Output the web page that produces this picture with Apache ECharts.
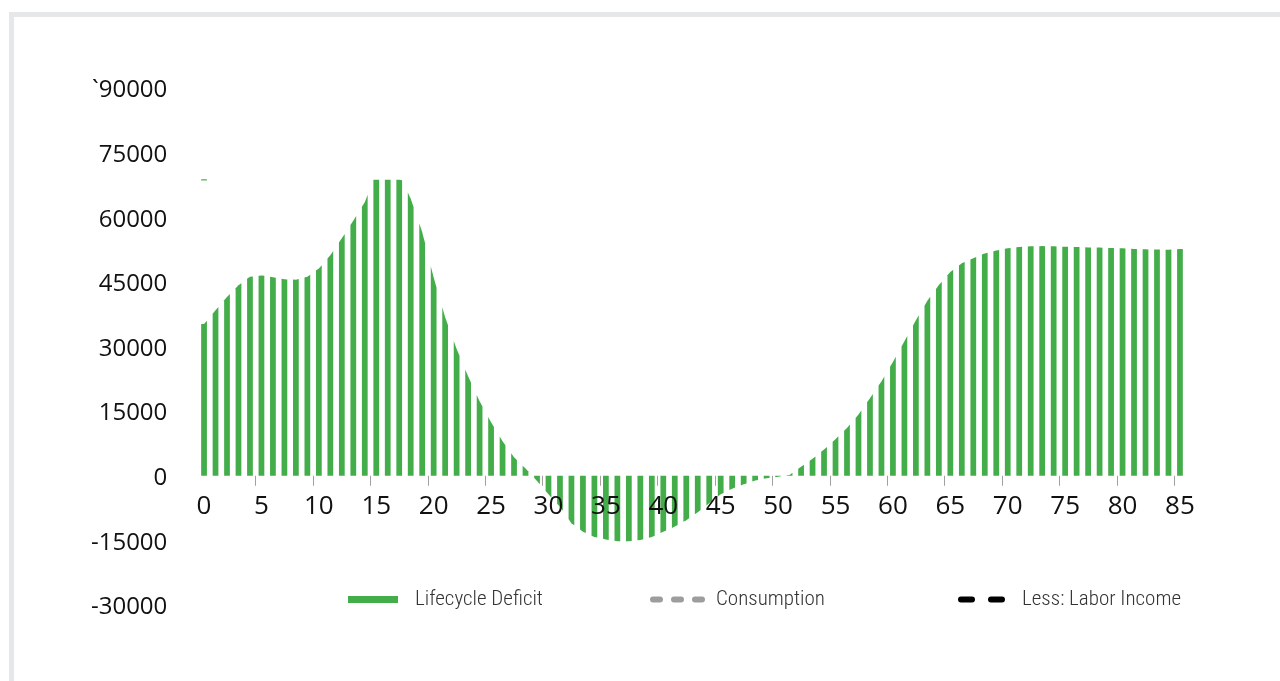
<!DOCTYPE html>
<html>
<head>
<meta charset="utf-8">
<script src="https://cdn.jsdelivr.net/npm/echarts@6/dist/echarts.min.js"></script>
<style>
  html, body { margin: 0; padding: 0; background: #ffffff; }
  #frame { position: absolute; left: 9px; top: 12px; right: 0; bottom: 0;
           border-left: 5px solid #e6e7e9; border-top: 5px solid #e6e7e9; background: #fff; }
  #chart { position: absolute; left: 0; top: 0; width: 1280px; height: 681px; }
</style>
</head>
<body>
<div id="frame"></div>
<div id="chart"></div>
<script>
// ---- data ----
const ages = [0,1,2,3,4,5,6,7,8,9,10,11,12,13,14,15,16,17,18,19,
  20,21,22,23,24,25,26,27,28,29,30,31,32,33,34,35,36,37,38,39,
  40,41,42,43,44,45,46,47,48,49,50,51,52,53,54,55,56,57,58,59,
  60,61,62,63,64,65,66,67,68,69,70,71,72,73,74,75,76,77,78,79,
  80,81,82,83,84,85];

const lifecycleDeficit = [
  35200, 38400, 41500, 44200, 46200, 46500, 46100, 45600, 45500, 46200,
  48100, 51200, 55100, 59200, 63500, 70500, 72000, 70000, 64300, 56600,
  46000, 36800, 29400, 23100, 17300, 12400, 8000, 4300, 1700, -1200,
  -4300, -7200, -11000, -13000, -14200, -14800, -15200, -15200, -14900, -14200,
  -13000, -11800, -10300, -8500, -6400, -4300, -3000, -2000, -1100, -600,
  -250, 200, 2100, 3950, 6100, 8500, 11100, 14200, 18000, 21900,
  26400, 31200, 36100, 40600, 44300, 47300, 49300, 50500, 51600, 52300,
  52800, 53100, 53250, 53300, 53250, 53150, 53100, 53000, 52950, 52850,
  52800, 52650, 52550, 52500, 52450, 52650
];

const consumption = [];
const laborIncome = [];

const xTickLabels = [0, 5, 10, 15, 20, 25, 30, 35, 40, 45, 50, 55, 60, 65, 70, 75, 80, 85];
const xTickMarks = [5, 10, 15, 20, 25, 30, 35, 40, 45, 50, 55, 60, 65, 70, 75, 80, 85];

const yTickLabels = ['-30000', '-15000', '0', '15000', '30000', '45000', '60000', '75000', '`90000'];
const yTickValues = [-30000, -15000, 0, 15000, 30000, 45000, 60000, 75000, 90000];

const seriesNames = ['Lifecycle Deficit', 'Consumption', 'Less: Labor Income'];

// ---- style ----
const GREEN = '#43ad4a';
const BAR_RATIO = 0.5;
const CLIP_MAX = 68700;
const FONT = '"Open Sans", "DejaVu Sans", sans-serif';
const LEGEND_FONT = '"Roboto Condensed", "Liberation Sans Narrow", "Roboto", sans-serif';

const X_MIN = ages[0] - 0.5;
const X_MAX = ages[ages.length - 1] + 0.5;
const Y_MIN = yTickValues[0];
const Y_MAX = yTickValues[yTickValues.length - 1];
const GRID_TOP = 88, GRID_BOTTOM = 76, CHART_H = 681;
const GRID_H = CHART_H - GRID_TOP - GRID_BOTTOM;
const ZERO_OFFSET = -((0 - Y_MIN) / (Y_MAX - Y_MIN)) * GRID_H;

function renderStripe(params, api) {
  const i = api.value(0);
  const v = api.value(1);
  const k = params.dataIndex;
  const n = lifecycleDeficit.length;
  const prev = k > 0 ? lifecycleDeficit[k - 1] : v;
  const next = k < n - 1 ? lifecycleDeficit[k + 1] : v;
  const f = BAR_RATIO / 2;
  const vl = v + (prev - v) * f;
  const vr = v + (next - v) * f;
  const cw = api.size([1, 0])[0];
  const hw = cw * BAR_RATIO / 2;
  const c = api.coord([i, v]);
  const x = c[0];
  const y0 = api.coord([i, 0])[1];
  const yTop = api.coord([i, CLIP_MAX])[1];
  const cy = (y) => Math.max(y, yTop);
  const yl = cy(api.coord([i, vl])[1]);
  const yc = cy(c[1]);
  const yr = cy(api.coord([i, vr])[1]);
  const children = [{
    type: 'polygon',
    shape: { points: [[x - hw, y0], [x - hw, yl], [x, yc], [x + hw, yr], [x + hw, y0]] },
    style: { fill: GREEN }
  }];
  if (k === 0) {
    // the thin clip-level tick visible above the first stripe in the original
    children.push({ type: 'rect', shape: { x: x - hw, y: yTop - 0.5, width: 2 * hw, height: 1.2 },
                    style: { fill: GREEN } });
  }
  return { type: 'group', children: children };
}

const chart = echarts.init(document.getElementById('chart'), null, { renderer: 'canvas' });

const legendText = { fontFamily: LEGEND_FONT, fontSize: 21, color: '#333', fontWeight: 300 };

chart.setOption({
  backgroundColor: 'transparent',
  animation: false,
  grid: { left: 198.3, right: 94.3, top: GRID_TOP, bottom: GRID_BOTTOM, containLabel: false },
  legend: [
    { data: [{ name: seriesNames[0], icon: 'rect' }], left: 348, top: 589, padding: 0,
      itemWidth: 50, itemHeight: 7,
      textStyle: Object.assign({ padding: [0, 0, 0, 12] }, legendText) },
    { data: [{ name: seriesNames[1] }], left: 650, top: 589, padding: 0,
      itemWidth: 49, itemHeight: 7,
      itemStyle: { opacity: 0 },
      lineStyle: { width: 6, cap: 'round', type: [7, 14], color: '#9d9d9d', opacity: 1 },
      textStyle: Object.assign({ padding: [0, 0, 0, 9] }, legendText) },
    { data: [{ name: seriesNames[2] }], left: 958, top: 589, padding: 0,
      itemWidth: 41, itemHeight: 7,
      itemStyle: { opacity: 0 },
      lineStyle: { width: 6, cap: 'round', type: [11, 19], color: '#000000', opacity: 1 },
      textStyle: Object.assign({ padding: [0, 0, 0, 15] }, legendText) }
  ],
  xAxis: {
    type: 'value',
    min: X_MIN,
    max: X_MAX,
    z: 10,
    offset: ZERO_OFFSET,
    axisLine: { show: true, onZero: false, lineStyle: { color: 'rgba(0,0,0,0)' } },
    axisTick: { show: true, length: 10, customValues: xTickMarks.map((a) => a - 0.5),
                lineStyle: { color: '#a0a0a0', width: 1 } },
    axisLabel: { customValues: xTickLabels, fontFamily: FONT, fontSize: 26, color: '#111', margin: 18,
                 showMinLabel: true, showMaxLabel: true },
    splitLine: { show: false }
  },
  yAxis: {
    type: 'value',
    min: Y_MIN,
    max: Y_MAX,
    interval: 15000,
    axisLine: { show: false },
    axisTick: { show: false },
    splitLine: { show: false },
    axisLabel: {
      fontFamily: FONT, fontSize: 24, color: '#111', margin: 31,
      formatter: (val) => {
        const k = yTickValues.indexOf(val);
        return k >= 0 ? '{t|' + yTickLabels[k] + '}' : '';
      },
      rich: {
        t: { fontFamily: FONT, fontSize: 24, color: '#111', padding: [5, 0, 0, 0] }
      }
    }
  },
  series: [
    {
      name: seriesNames[0],
      type: 'custom',
      renderItem: renderStripe,
      itemStyle: { color: GREEN },
      encode: { x: 0, y: 1 },
      data: lifecycleDeficit.map((v, k) => [ages[k], v]),
      z: 2
    },
    {
      name: seriesNames[1],
      type: 'line',
      data: consumption,
      symbol: 'none',
      itemStyle: { color: '#9d9d9d' },
      lineStyle: { color: '#9d9d9d', width: 6, type: [7, 14], cap: 'round' }
    },
    {
      name: seriesNames[2],
      type: 'line',
      data: laborIncome,
      symbol: 'none',
      itemStyle: { color: '#000000' },
      lineStyle: { color: '#000000', width: 6, type: [11, 19], cap: 'round' }
    }
  ]
});
</script>
</body>
</html>
